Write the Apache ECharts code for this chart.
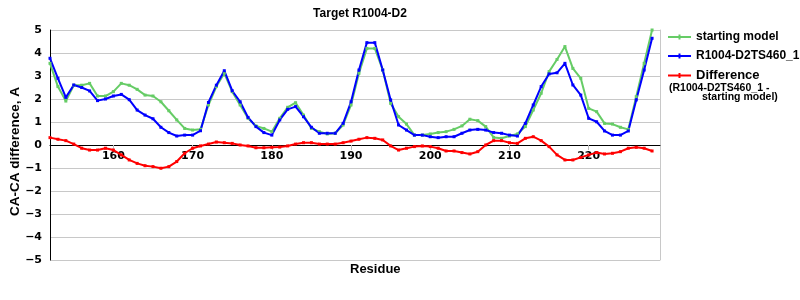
<!DOCTYPE html>
<html><head><meta charset="utf-8">
<script src="https://cdn.jsdelivr.net/npm/echarts@6/dist/echarts.min.js"></script>
<style>html,body{margin:0;padding:0;background:#fff}#c{width:800px;height:300px}</style>
</head><body><div id="c"></div>
<script>
var residues = [152,153,154,155,156,157,158,159,160,161,162,163,164,165,166,167,168,169,170,171,172,173,174,175,176,177,178,179,180,181,182,183,184,185,186,187,188,189,190,191,192,193,194,195,196,197,198,199,200,201,202,203,204,205,206,207,208,209,210,211,212,213,214,215,216,217,218,219,220,221,222,223,224,225,226,227,228];
var startingModel = [3.55,2.54,1.91,2.6,2.6,2.68,2.13,2.13,2.32,2.68,2.6,2.42,2.17,2.13,1.88,1.49,1.09,0.72,0.65,0.68,1.74,2.54,3.12,2.32,1.74,1.16,0.83,0.72,0.58,1.16,1.64,1.84,1.3,0.72,0.58,0.48,0.51,0.87,1.74,3.12,4.2,4.2,3.26,1.81,1.23,0.91,0.43,0.43,0.48,0.54,0.58,0.68,0.83,1.12,1.06,0.8,0.33,0.29,0.39,0.48,0.8,1.52,2.25,3.19,3.72,4.28,3.33,2.9,1.59,1.45,0.94,0.91,0.77,0.68,2.1,3.55,5.0];
var modelTS460 = [3.77,2.9,2.07,2.61,2.5,2.35,1.93,2.0,2.13,2.2,1.97,1.52,1.3,1.14,0.77,0.54,0.39,0.43,0.43,0.62,1.85,2.6,3.23,2.36,1.88,1.2,0.8,0.54,0.43,1.09,1.55,1.67,1.23,0.77,0.51,0.51,0.51,0.94,1.88,3.26,4.45,4.45,3.26,1.96,0.87,0.65,0.43,0.43,0.36,0.32,0.36,0.36,0.51,0.65,0.68,0.65,0.54,0.51,0.43,0.39,0.94,1.74,2.54,3.09,3.14,3.55,2.61,2.17,1.16,1.01,0.61,0.43,0.43,0.61,1.96,3.26,4.64];
var difference = [0.32,0.25,0.19,0.04,-0.14,-0.22,-0.22,-0.14,-0.22,-0.43,-0.65,-0.8,-0.9,-0.94,-1.01,-0.94,-0.72,-0.36,-0.14,-0.04,0.04,0.13,0.1,0.07,0,-0.04,-0.12,-0.12,-0.1,-0.09,-0.04,0.04,0.1,0.1,0.04,0.04,0.04,0.1,0.17,0.25,0.32,0.29,0.22,-0.04,-0.22,-0.14,-0.07,-0.04,-0.07,-0.14,-0.26,-0.26,-0.33,-0.39,-0.29,0,0.19,0.19,0.1,0.07,0.29,0.36,0.19,-0.07,-0.43,-0.65,-0.65,-0.54,-0.43,-0.33,-0.39,-0.36,-0.29,-0.14,-0.1,-0.14,-0.26];
var xTicks = [160,170,180,190,200,210,220];
var seriesNames = ['starting model','R1004-D2TS460_1','Difference'];

function pairs(vals){ return residues.map(function(r,i){ return [r, vals[i]]; }); }
var chart = echarts.init(document.getElementById('c'), null, {renderer:'canvas'});
var boldFont = 'Liberation Sans, Arial, sans-serif';
var legendIcon = 'path://M0,4L23,4L23,6L0,6Z M10.5,2.5L12.5,2.5L12.5,7.5L10.5,7.5Z';
function mkSeries(name, vals, color){
  return {name:name, type:'line', data:pairs(vals), symbol:'rect', symbolSize:3, showSymbol:true,
    lineStyle:{color:color, width:2}, itemStyle:{color:color}, clip:true};
}
chart.setOption({
  animation:false,
  title:{text:'Target R1004-D2', left:355, top:3, textAlign:'center',
    textStyle:{fontFamily:boldFont, fontWeight:'bold', fontSize:12, color:'#000'}},
  grid:{left:50, right:140, top:30, bottom:40},
  legend:{orient:'vertical', left:668, top:31, padding:0, itemWidth:23, itemHeight:10, itemGap:7,
    data:[
      {name:seriesNames[0], icon:legendIcon},
      {name:seriesNames[1], icon:legendIcon},
      {name:seriesNames[2], icon:legendIcon, textStyle:{fontSize:13}}
    ],
    textStyle:{fontFamily:boldFont, fontWeight:'bold', fontSize:12, color:'#000'}},
  xAxis:{type:'value', min:152, max:229, offset:-115,
    axisLine:{onZero:false, lineStyle:{color:'#000', width:1}},
    axisTick:{show:true, customValues:xTicks, length:5, lineStyle:{color:'#bbb'}},
    axisLabel:{customValues:xTicks, margin:6, fontFamily:'DejaVu Sans', fontWeight:'bold', fontSize:11, color:'#000'},
    splitLine:{show:false}},
  yAxis:[{type:'value', min:-5, max:5, interval:1,
    axisLine:{show:true, lineStyle:{color:'#000'}}, axisTick:{show:false},
    axisLabel:{fontFamily:'DejaVu Sans', fontWeight:'bold', fontSize:11, color:'#000', margin:8,
      formatter:function(v){ return String(v).replace('-', '\u2212'); }},
    splitLine:{show:true, lineStyle:{color:'#c8c8c8', width:1}}},
   {type:'value', min:-5, max:5, position:'right',
    axisLine:{show:true, lineStyle:{color:'#c8c8c8'}}, axisTick:{show:false}, axisLabel:{show:false}, splitLine:{show:false}}],
  graphic:[
    {type:'text', left:8, top:87, rotation:Math.PI/2, style:{text:'CA-CA difference, A', font:'bold 13.5px Liberation Sans, Arial, sans-serif', fill:'#000'}},
    {type:'text', left:350, top:263, style:{text:'Residue', font:'bold 13px Liberation Sans, Arial, sans-serif', fill:'#000'}},
    {type:'text', left:669, top:83, style:{text:'(R1004-D2TS460_1 -', font:'bold 10.5px Liberation Sans, Arial, sans-serif', fill:'#000'}},
    {type:'text', left:702, top:92, style:{text:'starting model)', font:'bold 10.5px Liberation Sans, Arial, sans-serif', fill:'#000'}}
  ],
  series:[
    mkSeries(seriesNames[0], startingModel, '#66cc66'),
    mkSeries(seriesNames[1], modelTS460, '#0000ff'),
    mkSeries(seriesNames[2], difference, '#ff0000')
  ]
});
</script></body></html>
